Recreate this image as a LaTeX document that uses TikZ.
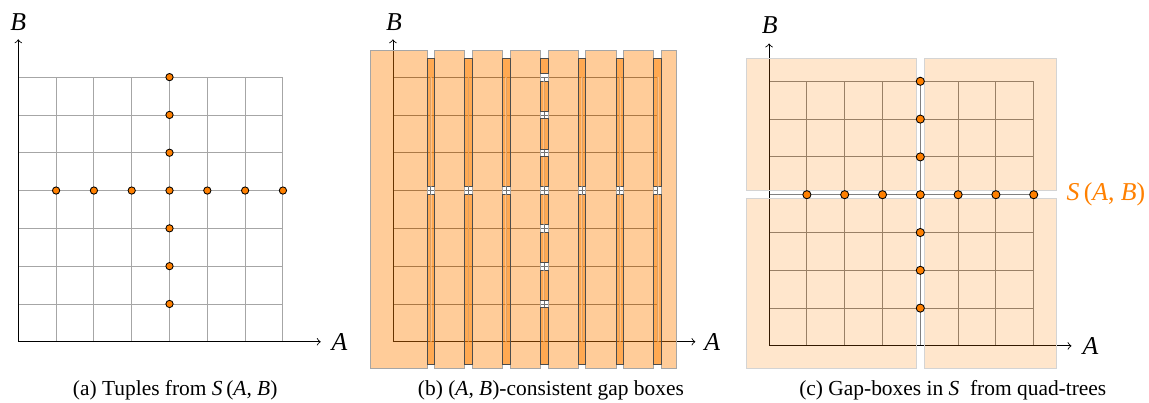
\documentclass[tikz,border=0pt]{standalone}
\usepackage{fontspec}
\setmainfont{Liberation Serif}
\usetikzlibrary{positioning}

\newcommand{\relAB}{\textit{S}\,(\textit{A}, \textit{B})}

\tikzset{
	gridline/.style={black!35, step={(1,1)}},
	axis/.style={->, black},
	tuple/.style={circle, draw=black, fill=orange, inner sep=0pt, minimum size=3.4pt},
	widebox/.style={fill=orange, fill opacity=0.4, draw=black!35},
	narrowbox/.style={fill=orange, fill opacity=0.68, draw=black!70, line width=0.35pt},
	midstripe/.style={fill=white, fill opacity=0.3},
	quadbox/.style={fill=orange, fill opacity=0.2, draw=black!17},
	axislabel/.style={font=\large, inner sep=0pt},
	subcaption/.style={font=\normalsize, inner sep=0pt}
}

\begin{document}
\begin{tikzpicture}[x=0.62cm, y=0.62cm]
	\useasboundingbox (-0.484,-1.62) rectangle (29.91,9.04);

	% (a) tuples
	\coordinate (aO) at (0,0);
	\coordinate (aX) at (8,0);
	\coordinate (aY) at (0,8);
	\draw[gridline] (0,0) grid (7,7);
	\draw[axis] (aO) -- (aX);
	\draw[axis] (aO) -- (aY);
	\node[axislabel] (aA) at (8.5,0) {\textit{A}};
	\node[axislabel] (aB) at (0,8.46) {\textit{B}};
	\foreach \i in {1,...,7}
		\node[tuple] (ta-\i-4) at (\i,4) {};
	\foreach \j in {1,2,3,5,6,7}
		\node[tuple] (ta-4-\j) at (4,\j) {};
	\node[subcaption] (capA) at (4.15,-1.28) {(a) Tuples from \relAB};

	% (b) gap boxes
	\begin{scope}[xshift=9.91*0.62cm]
		\coordinate (bO) at (0,0);
		\coordinate (bX) at (8,0);
		\coordinate (bY) at (0,8);
		\draw[gridline, black!55] (0,0) grid (7,7);
		\draw[axis] (bO) -- (bX);
		\draw[axis] (bO) -- (bY);
		\foreach \l/\r in {-0.6/0.9, 1.1/1.9, 2.1/2.9, 3.1/3.9, 4.1/4.9, 5.1/5.9, 6.1/6.9, 7.1/7.5}
			\draw[widebox] (\l,-0.7) rectangle (\r,7.7);
		\foreach \c in {1,2,3,5,6,7} {
			\draw[narrowbox] ({\c-0.1},-0.6) rectangle ({\c+0.1},3.9);
			\draw[narrowbox] ({\c-0.1},4.1) rectangle ({\c+0.1},7.5);
			\fill[midstripe] ({\c-0.025},0) rectangle ({\c+0.025},3.9);
			\fill[midstripe] ({\c-0.025},4.1) rectangle ({\c+0.025},7);
		}
		\foreach \b/\t in {-0.6/0.9, 1.1/1.9, 2.1/2.9, 3.1/3.9, 4.1/4.9, 5.1/5.9, 6.1/6.9, 7.1/7.5}
			\draw[narrowbox] (3.9,\b) rectangle (4.1,\t);
		\foreach \b/\t in {0/0.9, 1.1/1.9, 2.1/2.9, 3.1/3.9, 4.1/4.9, 5.1/5.9, 6.1/6.9}
			\fill[midstripe] (3.975,\b) rectangle (4.025,\t);
		\node[axislabel] (bA) at (8.45,0) {\textit{A}};
		\node[axislabel] (bB) at (0.03,8.46) {\textit{B}};
		\node[subcaption] (capB) at (4.18,-1.28) {(b) (\textit{A}, \textit{B})-consistent gap boxes};
	\end{scope}

	% (c) quad-tree boxes
	\begin{scope}[xshift=19.86*0.62cm, yshift=-0.11*0.62cm]
		\coordinate (cO) at (0,0);
		\coordinate (cX) at (8,0);
		\coordinate (cY) at (0,8);
		\draw[gridline, black!50] (0,0) grid (7,7);
		\draw[axis] (cO) -- (cX);
		\draw[axis] (cO) -- (cY);
		\draw[quadbox] (-0.6,4.1) rectangle (3.9,7.6);
		\draw[quadbox] (4.1,4.1) rectangle (7.6,7.6);
		\draw[quadbox] (-0.6,-0.6) rectangle (3.9,3.9);
		\draw[quadbox] (4.1,-0.6) rectangle (7.6,3.9);
		\foreach \i in {1,...,7}
			\node[tuple, minimum size=3.8pt] (tc-\i-4) at (\i,4) {};
		\foreach \j in {1,2,3,5,6,7}
			\node[tuple, minimum size=3.8pt] (tc-4-\j) at (4,\j) {};
		\node[axislabel] (cA) at (8.5,0) {\textit{A}};
		\node[axislabel] (cB) at (0.02,8.49) {\textit{B}};
		\node[axislabel, anchor=west, text=orange] (cS) at (7.86,4.02) {\relAB};
		\node[subcaption] (capC) at (4.86,-1.17) {(c) Gap-boxes in \textit{S} \ from quad-trees};
	\end{scope}
\end{tikzpicture}
\end{document}
